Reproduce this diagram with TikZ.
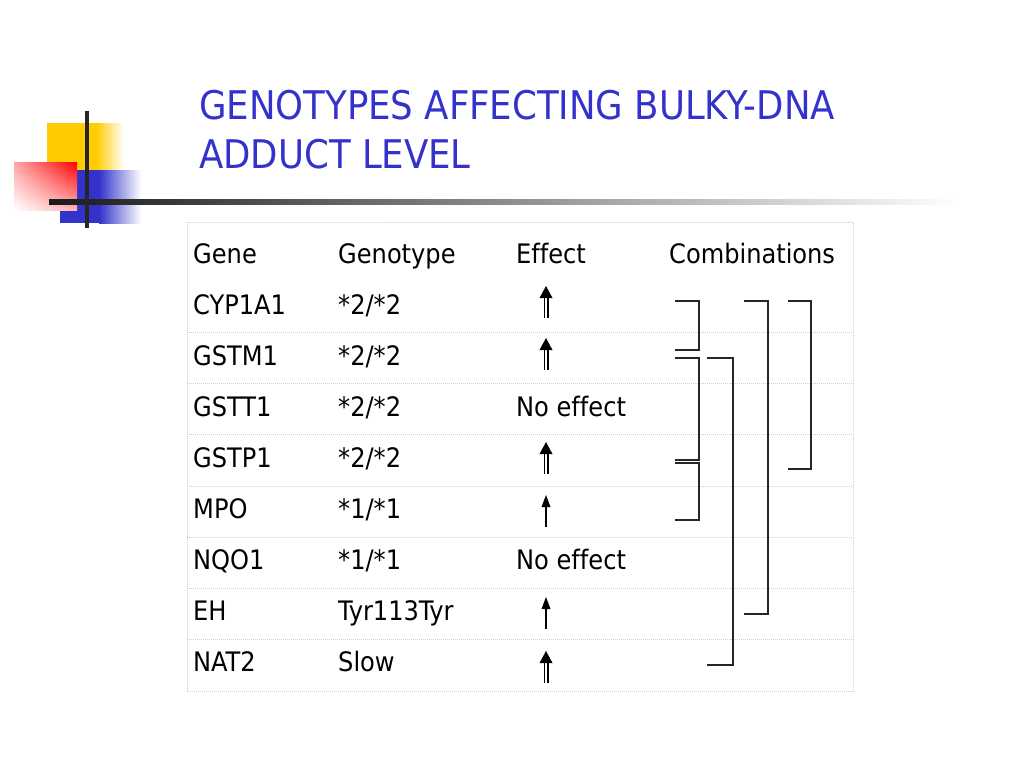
\documentclass[tikz,border=0pt]{standalone}
\usepackage{fontspec}
\setmainfont[Ligatures=NoCommon]{DejaVu Sans Condensed}
\usepackage{tikz}
\usetikzlibrary{calc,shadings}

\definecolor{titleblue}{RGB}{51,51,204}
\definecolor{decoyellow}{RGB}{255,204,0}
\definecolor{gridgray}{RGB}{205,205,205}

\tikzset{
    cell/.style={anchor=base west, inner sep=0pt, font=\fontsize{26.8}{32}\selectfont},
    headline/.style={anchor=base west, inner sep=0pt, text=titleblue, font=\fontsize{39.5}{46}\selectfont},
    rowline/.style={draw=gridgray, dash pattern=on 1pt off 1pt, line width=1pt},
    comb/.style={draw=black!85, line width=1.3pt},
    dblup/.pic={
        \draw[double=white, double distance=2.8pt, line width=1.1pt] (0,16) -- (0,-5);
        \fill (-6.5,-4) -- (6.5,-4) -- (0,-16) -- cycle;
    },
    oneup/.pic={
        \draw[line width=1.4pt] (0,16) -- (0,-5);
        \fill (-4.5,-4) -- (4.5,-4) -- (0,-16) -- cycle;
    }
}

\begin{document}
\begin{tikzpicture}[x=1pt, y=-1pt]
    \useasboundingbox (0,0) rectangle (1024,768);

    % corner decoration
    \fill[decoyellow] (47,123) rectangle (97,190);
    \shade[left color=decoyellow, right color=white] (96,123) rectangle (124,190);
    \fill[titleblue] (60,170) rectangle (100,223);
    \shade[left color=titleblue, right color=white] (99,170) rectangle (141,223);
    \shade[upper left=red!35, upper right=red, lower left=white, lower right=red!30] (14,162) rectangle (77,210);
    \shade[left color=black!90, middle color=black!60, right color=white] (49,199) rectangle (960,204);
    \fill[black!85] (85,111) rectangle (89,228);

    % title
    \node[headline] (title1) at (199,119) {GENOTYPES AFFECTING BULKY-DNA};
    \node[headline] (title2) at (199,168) {ADDUCT LEVEL};

    % table frame
    \draw[rowline] (187,222) rectangle (853,691);
    \foreach \y in {332,383,434,486,537,588,639}
        \draw[rowline] (187,\y) -- (853,\y);

    % header
    \node[cell] (gene) at (193,263) {Gene};
    \node[cell] (genotype) at (338,263) {Genotype};
    \node[cell] (effect) at (516,263) {Effect};
    \node[cell] (combos) at (669,263) {Combinations};

    % rows
    \node[cell] (cyp) at (193,314) {CYP1A1};
    \node[cell] (cypgt) at (338,314) {*2/*2};
    \node[cell] (gstm) at (193,365) {GSTM1};
    \node[cell] (gstmgt) at (338,365) {*2/*2};
    \node[cell] (gstt) at (193,416) {GSTT1};
    \node[cell] (gsttgt) at (338,416) {*2/*2};
    \node[cell] (gstteff) at (516,416) {No effect};
    \node[cell] (gstp) at (193,467) {GSTP1};
    \node[cell] (gstpgt) at (338,467) {*2/*2};
    \node[cell] (mpo) at (193,518) {MPO};
    \node[cell] (mpogt) at (338,518) {*1/*1};
    \node[cell] (nqo) at (193,569) {NQO1};
    \node[cell] (nqogt) at (338,569) {*1/*1};
    \node[cell] (nqoeff) at (516,569) {No effect};
    \node[cell] (eh) at (193,620) {EH};
    \node[cell] (ehgt) at (338,620) {Tyr113Tyr};
    \node[cell] (nat) at (193,671) {NAT2};
    \node[cell] (natgt) at (338,671) {Slow};

    % effect arrows
    \pic at (546,302) {dblup};
    \pic at (546,354) {dblup};
    \pic at (546,458) {dblup};
    \pic at (546,511) {oneup};
    \pic at (546,613) {oneup};
    \pic at (546,667) {dblup};

    % combination brackets
    \draw[comb] (675,301) -- (699,301) -- (699,350) -- (675,350);
    \draw[comb] (675,358) -- (699,358) -- (699,460) -- (675,460);
    \draw[comb] (675,463) -- (699,463) -- (699,520) -- (675,520);
    \draw[comb] (707,358) -- (733,358) -- (733,665) -- (707,665);
    \draw[comb] (744,301) -- (768,301) -- (768,614) -- (744,614);
    \draw[comb] (788,301) -- (811,301) -- (811,469) -- (788,469);
\end{tikzpicture}
\end{document}
